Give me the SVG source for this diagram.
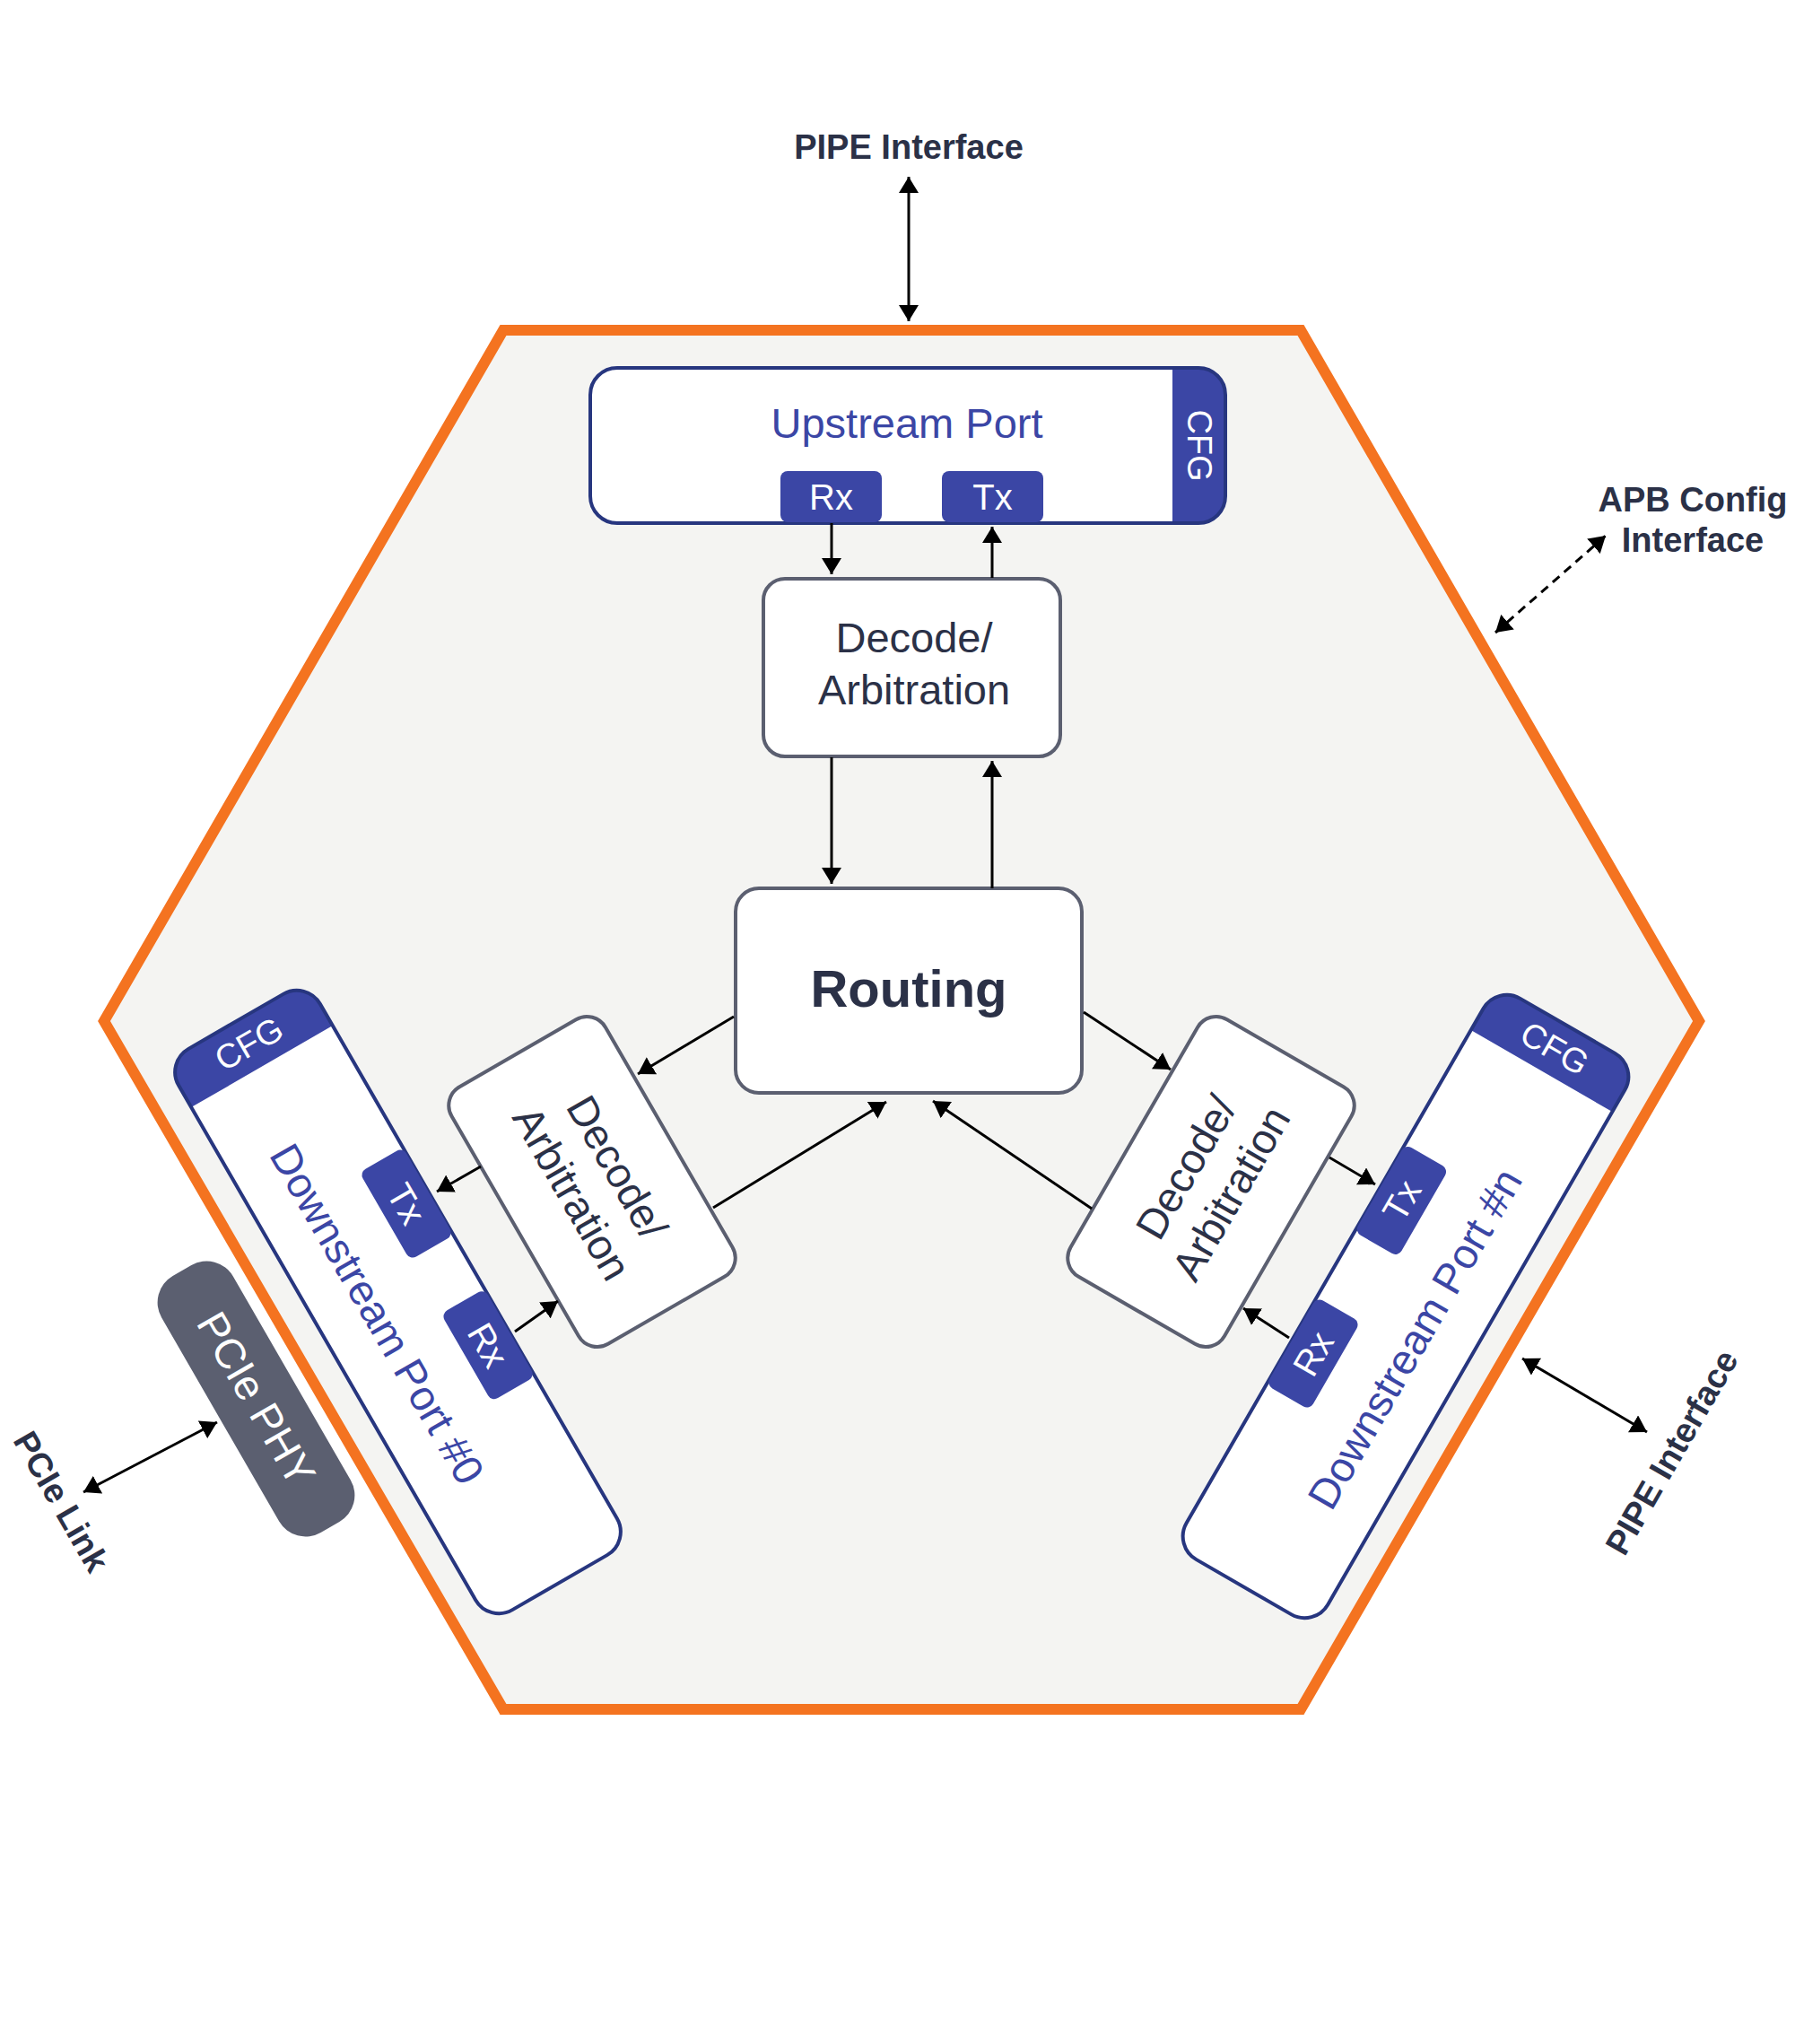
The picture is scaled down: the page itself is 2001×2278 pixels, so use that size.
<svg xmlns="http://www.w3.org/2000/svg" width="2001" height="2278" viewBox="0 0 2001 2278">
<style>
  text { font-family: "Liberation Sans", Arial, Helvetica, sans-serif; }
  .lbl { font-weight: bold; font-size: 38px; fill: #2b3147; text-anchor: middle; }
  .dtxt { font-size: 47px; fill: #2b3147; text-anchor: middle; }
  .ptxt { font-size: 47px; fill: #3b46a5; text-anchor: middle; }
  .wtxt { fill: #ffffff; text-anchor: middle; }
  .box { fill: #ffffff; stroke: #5b5f70; stroke-width: 4; }
  .pfill { fill: #ffffff; }
  .pline { fill: none; stroke: #27367f; stroke-width: 4; }
  .cfg { fill: #3b46a5; }
  .trx { fill: #3b46a5; }
  .conn line { stroke: #000000; stroke-width: 3; fill: none; }
  .one { marker-end: url(#ah); }
  .two { marker-end: url(#ah); marker-start: url(#ah); }
  .dash { stroke-dasharray: 10 7; }
</style>
<defs>
  <marker id="ah" viewBox="0 0 18 22" refX="18" refY="11" markerWidth="18" markerHeight="22" markerUnits="userSpaceOnUse" orient="auto-start-reverse">
    <path d="M0,0 L18,11 L0,22 z" fill="#000000"/>
  </marker>
</defs>
<rect x="0" y="0" width="2001" height="2278" fill="#ffffff"/>

<g id="switch-hexagon">
  <polygon points="561,368 1450,368 1894,1138 1450,1905 561,1905 116,1138" fill="#f4f4f2" stroke="#f47320" stroke-width="12"/>
</g>

<g id="upstream-port">
  <rect class="pfill" x="658" y="410" width="708" height="173" rx="30"/>
  <path class="cfg" d="M1307,410 H1336 A30,30 0 0 1 1366,440 V553 A30,30 0 0 1 1336,583 H1307 Z"/>
  <rect class="pline" x="658" y="410" width="708" height="173" rx="30"/>
  <text class="wtxt" font-size="38" transform="translate(1337,496.5) rotate(90)" y="13">CFG</text>
  <text class="ptxt" x="1011" y="488">Upstream Port</text>
  <rect class="trx" x="870" y="525" width="113" height="57" rx="8"/>
  <text class="wtxt" font-size="40" x="926.5" y="568">Rx</text>
  <rect class="trx" x="1050" y="525" width="113" height="57" rx="8"/>
  <text class="wtxt" font-size="40" x="1106.5" y="568">Tx</text>
</g>

<g id="decode-top">
  <rect class="box" x="851" y="645" width="331" height="198" rx="24"/>
  <text class="dtxt" x="1019" y="727">Decode/</text>
  <text class="dtxt" x="1019" y="785">Arbitration</text>
</g>

<g id="routing">
  <rect class="box" x="820" y="990" width="386" height="228" rx="26"/>
  <text x="1013" y="1122" font-size="58" font-weight="bold" fill="#2b3147" text-anchor="middle">Routing</text>
</g>

<g id="decode-left" transform="translate(660,1317) rotate(60)">
  <rect class="box" x="-165.5" y="-99" width="331" height="198" rx="24"/>
  <text class="dtxt" x="0" y="-16">Decode/</text>
  <text class="dtxt" x="0" y="42">Arbitration</text>
</g>

<g id="decode-right" transform="translate(1350,1317) rotate(-60)">
  <rect class="box" x="-165.5" y="-99" width="331" height="198" rx="24"/>
  <text class="dtxt" x="0" y="-16">Decode/</text>
  <text class="dtxt" x="0" y="42">Arbitration</text>
</g>

<g id="downstream-port-0" transform="translate(443.5,1451) rotate(60)">
  <rect class="pfill" x="-361" y="-91" width="722" height="182" rx="30"/>
  <path class="cfg" d="M-303,-91 H-331 A30,30 0 0 0 -361,-61 V61 A30,30 0 0 0 -331,91 H-303 Z"/>
  <rect class="pline" x="-361" y="-91" width="722" height="182" rx="30"/>
  <text class="wtxt" font-size="38" transform="translate(-332,0) rotate(-90)" y="13">CFG</text>
  <rect class="trx" x="-146.5" y="-91" width="113" height="56" rx="8"/>
  <text class="wtxt" font-size="40" x="-90" y="-49">Tx</text>
  <rect class="trx" x="35.5" y="-91" width="113" height="56" rx="8"/>
  <text class="wtxt" font-size="40" x="92" y="-49">Rx</text>
  <text class="ptxt" x="0" y="43">Downstream Port #0</text>
</g>

<g id="downstream-port-n" transform="translate(1567,1456) rotate(-60)">
  <rect class="pfill" x="-361" y="-91" width="722" height="182" rx="30"/>
  <path class="cfg" d="M303,-91 H331 A30,30 0 0 1 361,-61 V61 A30,30 0 0 1 331,91 H303 Z"/>
  <rect class="pline" x="-361" y="-91" width="722" height="182" rx="30"/>
  <text class="wtxt" font-size="38" transform="translate(332,0) rotate(90)" y="13">CFG</text>
  <rect class="trx" x="43.5" y="-91" width="113" height="56" rx="8"/>
  <text class="wtxt" font-size="40" x="100" y="-49">Tx</text>
  <rect class="trx" x="-153.5" y="-91" width="113" height="56" rx="8"/>
  <text class="wtxt" font-size="40" x="-97" y="-49">Rx</text>
  <text class="ptxt" x="-26" y="43">Downstream Port #n</text>
</g>

<g id="pcie-phy" transform="translate(285.5,1559) rotate(60)">
  <rect x="-165" y="-46" width="330" height="92" rx="34" fill="#5b5f70"/>
  <text class="wtxt" font-size="47" x="0" y="16">PCIe PHY</text>
</g>

<g id="label-pipe-top">
  <text class="lbl" x="1013" y="177">PIPE Interface</text>
</g>
<g id="label-apb">
  <text class="lbl" x="1887" y="570">APB Config</text>
  <text class="lbl" x="1887" y="615">Interface</text>
</g>
<g id="label-pipe-right">
  <text class="lbl" transform="translate(1875,1625) rotate(-60)">PIPE Interface</text>
</g>
<g id="label-pcie-link">
  <text class="lbl" transform="translate(57,1680) rotate(60)">PCIe Link</text>
</g>

<g id="connectors" class="conn">
  <line class="two" x1="1013" y1="197" x2="1013" y2="358"/>
  <line class="one" x1="927" y1="583" x2="927" y2="640"/>
  <line class="one" x1="1106" y1="644" x2="1106" y2="587"/>
  <line class="one" x1="927" y1="844" x2="927" y2="985"/>
  <line class="one" x1="1106" y1="990" x2="1106" y2="848"/>
  <line class="one" x1="818" y1="1133" x2="711" y2="1197"/>
  <line class="one" x1="795" y1="1346" x2="988" y2="1228"/>
  <line class="one" x1="1208" y1="1128" x2="1305" y2="1192"/>
  <line class="one" x1="1217" y1="1347" x2="1040" y2="1227"/>
  <line class="one" x1="536" y1="1300" x2="487" y2="1328"/>
  <line class="one" x1="574" y1="1484" x2="622" y2="1450"/>
  <line class="one" x1="1482" y1="1290" x2="1533" y2="1320"/>
  <line class="one" x1="1437" y1="1491" x2="1386" y2="1458"/>
  <line class="two" x1="93" y1="1663" x2="242" y2="1585"/>
  <line class="two dash" x1="1667" y1="705" x2="1790" y2="597"/>
  <line class="two" x1="1697" y1="1514" x2="1836" y2="1596"/>
</g>
</svg>
